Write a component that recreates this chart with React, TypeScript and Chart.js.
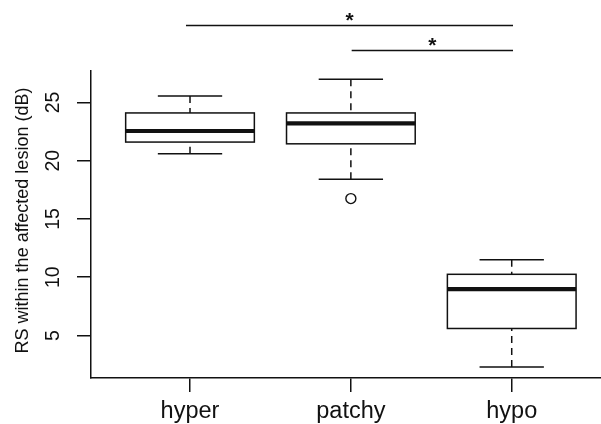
import React, { useEffect, useRef } from "react";
import { Chart, registerables } from "chart.js";

Chart.register(...registerables);

// ---- data ----
const categories = ["hyper", "patchy", "hypo"];
const whiskerLow = [20.6, 18.4, 2.3];
const q1 = [21.6, 21.45, 5.6];
const median = [22.55, 23.2, 8.97];
const q3 = [24.1, 24.1, 10.25];
const whiskerHigh = [25.55, 27.0, 11.5];
const outlierGroup = [2];
const outlierValue = [16.75];
const yTicks = [5, 10, 15, 20, 25];
const xTicks = [1, 2, 3];
const yTitle = "RS within the affected lesion (dB)";
// significance brackets (x in category units, y in data units)
const sigFrom = [0.975, 2.005];
const sigTo = [3.008, 3.008];
const sigLevel = [31.6, 29.45];
const sigLabel = ["*", "*"];

const FONT = '"Liberation Sans", Arial, Helvetica, sans-serif';
const INK = "#111";

const boxPlugin = {
  id: "boxplotDraw",
  afterDatasetsDraw(chart: any) {
    const { ctx } = chart;
    const x = chart.scales.x;
    const y = chart.scales.y;
    ctx.save();
    ctx.strokeStyle = INK;
    ctx.lineCap = "butt";
    categories.forEach((_, i) => {
      const c = x.getPixelForValue(i + 1);
      const hw = x.getPixelForValue(i + 1.4) - c;
      const cw = x.getPixelForValue(i + 1.2) - c;
      const pLo = y.getPixelForValue(whiskerLow[i]);
      const pQ1 = y.getPixelForValue(q1[i]);
      const pMed = y.getPixelForValue(median[i]);
      const pQ3 = y.getPixelForValue(q3[i]);
      const pHi = y.getPixelForValue(whiskerHigh[i]);
      // whiskers (dashed), drawn from whisker end toward box
      ctx.lineWidth = 1.5;
      ctx.setLineDash([7, 5]);
      ctx.beginPath();
      ctx.moveTo(c, pLo);
      ctx.lineTo(c, pQ1);
      ctx.moveTo(c, pHi);
      ctx.lineTo(c, pQ3);
      ctx.stroke();
      ctx.setLineDash([]);
      // caps
      ctx.beginPath();
      ctx.moveTo(c - cw, pLo);
      ctx.lineTo(c + cw, pLo);
      ctx.moveTo(c - cw, pHi);
      ctx.lineTo(c + cw, pHi);
      ctx.stroke();
      // box
      ctx.fillStyle = "#fff";
      ctx.fillRect(c - hw, pQ3, 2 * hw, pQ1 - pQ3);
      ctx.strokeRect(c - hw, pQ3, 2 * hw, pQ1 - pQ3);
      // median
      ctx.lineWidth = 4.2;
      ctx.beginPath();
      ctx.moveTo(c - hw, pMed);
      ctx.lineTo(c + hw, pMed);
      ctx.stroke();
    });

    // significance brackets
    ctx.lineWidth = 1.5;
    ctx.fillStyle = INK;
    ctx.font = `bold 21px ${FONT}`;
    ctx.textAlign = "center";
    ctx.textBaseline = "alphabetic";
    sigLevel.forEach((lvl, i) => {
      const py = y.getPixelForValue(lvl);
      const x1 = x.getPixelForValue(sigFrom[i]);
      const x2 = x.getPixelForValue(sigTo[i]);
      ctx.beginPath();
      ctx.moveTo(x1, py);
      ctx.lineTo(x2, py);
      ctx.stroke();
      const m = ctx.measureText(sigLabel[i]);
      const asc = m.actualBoundingBoxAscent;
      const desc = m.actualBoundingBoxDescent;
      const base = py - 8.5 - (desc - asc) / 2;
      ctx.fillText(sigLabel[i], (x1 + x2) / 2, base);
    });

    // y tick labels (rotated, as in R)
    ctx.font = `19.5px ${FONT}`;
    ctx.textAlign = "center";
    ctx.textBaseline = "middle";
    yTicks.forEach((v) => {
      const py = y.getPixelForValue(v);
      ctx.save();
      ctx.translate(54, py);
      ctx.rotate(-Math.PI / 2);
      ctx.fillText(String(v), 0, 0);
      ctx.restore();
    });

    // y axis title
    ctx.font = `18px ${FONT}`;
    ctx.save();
    ctx.translate(23, (y.top + y.bottom) / 2 - 4);
    ctx.rotate(-Math.PI / 2);
    ctx.fillText(yTitle, 0, 0);
    ctx.restore();

    ctx.restore();
  },
};

export default function App() {
  const canvasRef = useRef<HTMLCanvasElement | null>(null);

  useEffect(() => {
    const canvas = canvasRef.current;
    if (!canvas) return;
    const chart = new Chart(canvas, {
      type: "scatter",
      data: {
        datasets: [
          {
            label: "outliers",
            data: outlierGroup.map((g, i) => ({ x: g, y: outlierValue[i] })),
            pointRadius: 5,
            pointHoverRadius: 5,
            pointBackgroundColor: "rgba(0,0,0,0)",
            pointBorderColor: INK,
            pointBorderWidth: 1.4,
          },
        ],
      },
      options: {
        responsive: false,
        animation: false,
        devicePixelRatio: 1,
        layout: { autoPadding: false, padding: { top: 71, left: 0, right: 0, bottom: 0 } },
        plugins: {
          legend: { display: false },
          tooltip: { enabled: false },
          title: { display: false },
        },
        scales: {
          x: {
            type: "linear",
            min: 0.3845,
            max: 3.555,
            afterBuildTicks: (s: any) => {
              s.ticks = xTicks.map((v) => ({ value: v }));
            },
            afterFit: (s: any) => {
              s.height = 46;
            },
            ticks: {
              autoSkip: false,
              maxRotation: 0,
              minRotation: 0,
              padding: 5,
              color: INK,
              font: { family: FONT, size: 23.5 },
              callback: (v: any) => categories[Math.round(Number(v)) - 1] ?? "",
            },
            grid: {
              drawOnChartArea: false,
              drawTicks: true,
              tickLength: 14,
              color: INK,
              lineWidth: 1.5,
            },
            border: { display: true, color: INK, width: 1.5 },
          },
          y: {
            type: "linear",
            min: 1.35,
            max: 27.7,
            afterBuildTicks: (s: any) => {
              s.ticks = yTicks.map((v) => ({ value: v }));
            },
            afterFit: (s: any) => {
              s.width = 91;
            },
            ticks: { display: false },
            grid: {
              drawOnChartArea: false,
              drawTicks: true,
              tickLength: 14,
              color: INK,
              lineWidth: 1.5,
            },
            border: { display: true, color: INK, width: 1.5 },
          },
        },
      },
      plugins: [boxPlugin],
    });
    return () => chart.destroy();
  }, []);

  return (
    <div
      style={{
        position: "fixed",
        left: 0,
        top: 0,
        width: 601,
        height: 424,
        background: "#fff",
        overflow: "hidden",
      }}
    >
      <canvas ref={canvasRef} width={601} height={424} style={{ display: "block" }} />
    </div>
  );
}
